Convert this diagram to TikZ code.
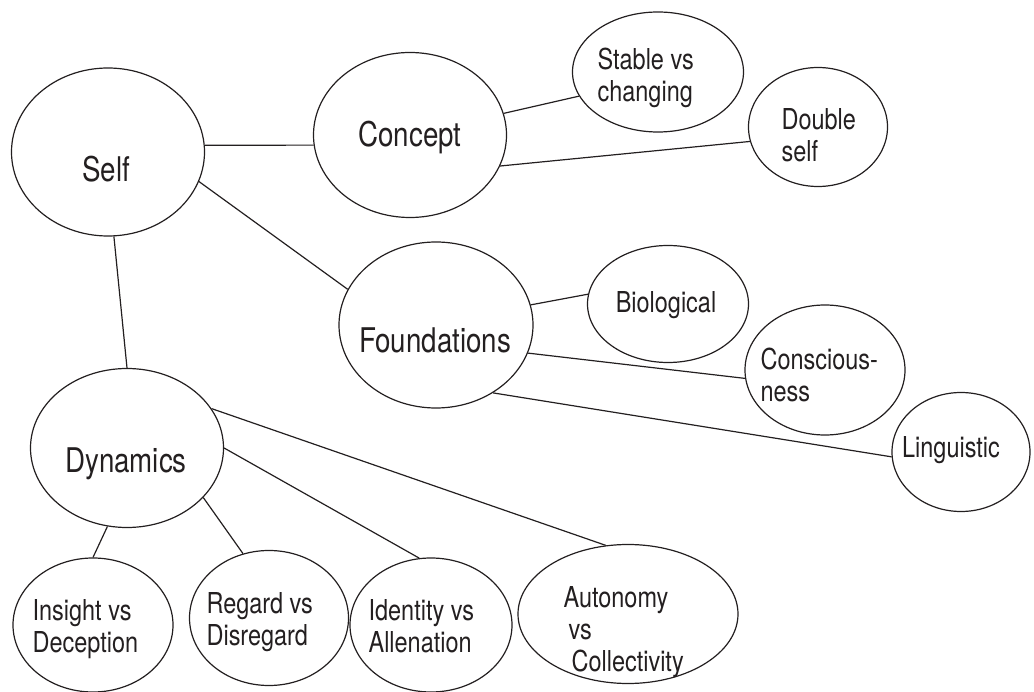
\documentclass[tikz,border=0pt]{standalone}
\usepackage{fontspec}
\setmainfont{TeX Gyre Heros}[FakeStretch=0.815]
\usetikzlibrary{shapes.geometric}
\definecolor{ink}{HTML}{231F20}
\tikzset{
  blob/.style={draw=ink, ellipse, inner sep=0pt},
  bigtext/.style={anchor=base, inner sep=0pt, text=ink, font=\fontsize{34}{36}\selectfont},
  smalltext/.style={anchor=base west, inner sep=0pt, text=ink, font=\fontsize{28.8}{32}\selectfont},
}
\newcommand{\stacked}[1]{\begin{tabular}[t]{@{}l@{}}#1\end{tabular}}

\begin{document}
\begin{tikzpicture}[x=1pt, y=-1pt, line width=1.2pt]
\useasboundingbox (0,0) rectangle (1034,692);
% ellipses
\node[blob, minimum width=193pt, minimum height=168pt] (self) at (108,152) {};
\node[blob, minimum width=193pt, minimum height=165pt] (concept) at (410,135) {};
\node[blob, minimum width=171pt, minimum height=120pt] (stable) at (658,72) {};
\node[blob, minimum width=139pt, minimum height=119pt] (double) at (818,127) {};
\node[blob, minimum width=194pt, minimum height=166pt] (found) at (436,325) {};
\node[blob, minimum width=161pt, minimum height=117pt] (bio) at (668,304) {};
\node[blob, minimum width=160pt, minimum height=130pt] (consc) at (825,370) {};
\node[blob, minimum width=138pt, minimum height=119pt] (ling) at (961,452) {};
\node[blob, minimum width=193pt, minimum height=159pt] (dyn) at (127,448) {};
\node[blob, minimum width=160pt, minimum height=134pt] (insight) at (93,625) {};
\node[blob, minimum width=159pt, minimum height=135pt] (regard) at (269,618) {};
\node[blob, minimum width=162pt, minimum height=134pt] (identity) at (431,625) {};
\node[blob, minimum width=220pt, minimum height=139pt] (auto) at (628,614) {};
% texts
\node[bigtext] (selfT) at (106,182) {Self};
\node[bigtext] (conceptT) at (410,147) {Concept};
\node[bigtext] (foundT) at (435,353) {Foundations};
\node[bigtext] (dynT) at (126,472) {Dynamics};
\node[smalltext] (stableT) at (597,70) {\stacked{Stable vs\\changing}};
\node[smalltext] (doubleT) at (781,130) {\stacked{Double\\self}};
\node[smalltext, anchor=base] (bioT) at (666,313) {Biological};
\node[smalltext] (conscT) at (760,370) {\stacked{Conscious-\\ness}};
\node[smalltext, anchor=base] (lingT) at (951,458) {Linguistic};
\node[smalltext] (insightT) at (32,620) {\stacked{Insight vs\\Deception}};
\node[smalltext] (regardT) at (206,613) {\stacked{Regard vs\\Disregard}};
\node[smalltext] (identityT) at (368,620) {\stacked{Identity vs\\Allenation}};
\node[smalltext] (autoT) at (563,607) {\stacked{Autonomy\\\hspace*{5pt}vs\\\hspace*{8pt}Collectivity}};
% connectors
\draw[ink] (self.4) -- (concept.186);
\draw[ink] (self.-18) -- (found.158);
\draw[ink] (self.-86) -- (dyn.90);
\draw[ink] (concept.13.6) -- (stable.197.8);
\draw[ink] (concept.-19.8) -- (double.192.4);
\draw[ink] (found.12.6) -- (bio.173);
\draw[ink] (found.-17) -- (consc.186.6);
\draw[ink] (found.-50.5) -- (ling.184);
\draw[ink] (dyn.-104) -- (insight.90);
\draw[ink] (dyn.-33) -- (regard.112.5);
\draw[ink] (dyn.-0.6) -- (identity.100);
\draw[ink] (dyn.25) -- (auto.108.4);
\end{tikzpicture}
\end{document}
